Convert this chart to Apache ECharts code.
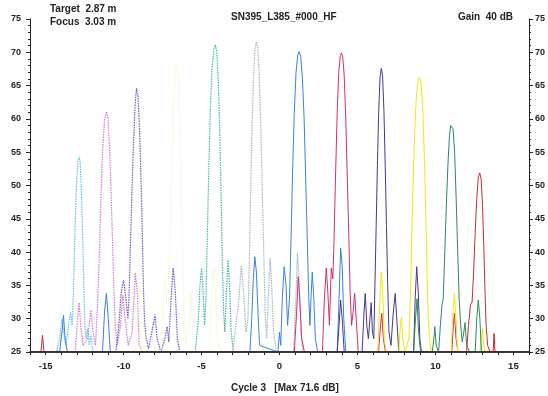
<!DOCTYPE html>
<html>
<head>
<meta charset="utf-8">
<script src="https://cdn.jsdelivr.net/npm/echarts@6/dist/echarts.min.js"></script>
<style>html,body{margin:0;padding:0;background:#fff;}</style>
</head>
<body>
<div id="myChart" style="width:548px;height:396px"></div>
<script>
// beam profile traces, [position, dB]
var traceA = [[-16,25],[-14.3,25],[-14.1,27],[-13.95,30],[-13.85,28],[-13.7,26],[-13.5,29.5],[-13.4,31],[-13.3,29],[-13.22,34],[-13.15,40],[-13.08,46],[-13.0,51],[-12.92,53.6],[-12.85,54.3],[-12.78,53.5],[-12.7,49],[-12.62,42],[-12.55,35],[-12.48,29],[-12.4,27],[-12.3,28.5],[-12.2,26],[-12.1,27.5],[-11.95,25],[16,25]];
var traceB = [[-16,25],[-13.1,25],[-12.95,30],[-12.85,32.4],[-12.75,29],[-12.6,26],[-12.3,27],[-12.1,31.3],[-11.95,28],[-11.8,26],[-11.65,33],[-11.55,40],[-11.45,48],[-11.35,55],[-11.22,59.8],[-11.1,61.1],[-11.0,60.2],[-10.9,56],[-10.8,49],[-10.7,41],[-10.6,33],[-10.52,28.7],[-10.4,26],[-10.2,29],[-10.05,33.5],[-9.9,30],[-9.7,26],[-9.45,28],[-9.25,36.9],[-9.12,34],[-9.0,26],[-8.8,25],[16,25]];
var traceC = [[-16,25],[-10.5,25],[-10.3,29],[-10.15,34],[-10.0,35.8],[-9.85,33],[-9.72,30],[-9.64,34],[-9.55,42],[-9.45,50],[-9.35,57],[-9.25,62.5],[-9.17,64.6],[-9.08,63.5],[-8.98,59],[-8.88,51],[-8.8,43],[-8.72,34],[-8.65,29.5],[-8.55,27],[-8.4,25.5],[-8.1,29],[-7.98,30.6],[-7.85,27],[-7.6,25],[-7.35,27],[-7.2,28.8],[-7.1,26.5],[-6.95,33],[-6.82,37.6],[-6.68,34],[-6.55,27],[-6.4,25],[16,25]];
var traceD = [[-16,25],[-9.2,25],[-9.05,35],[-8.95,30],[-8.85,25],[-7.6,25],[-7.45,33],[-7.35,35.8],[-7.25,32],[-7.1,36],[-6.98,45],[-6.88,55],[-6.78,63],[-6.68,67.5],[-6.6,68.5],[-6.52,67.5],[-6.42,62],[-6.32,52],[-6.22,40],[-6.12,30],[-6.0,26],[-5.8,29],[-5.68,33.8],[-5.56,28],[-5.4,25],[-4.5,25],[-4.35,34],[-4.22,37.6],[-4.1,33],[-3.95,26],[-3.6,25],[16,25]];
var traceE = [[-16,25],[-5.4,25],[-5.2,30],[-5.1,35],[-5.0,37.6],[-4.9,34],[-4.8,29],[-4.72,33],[-4.63,42],[-4.54,52],[-4.44,61],[-4.33,67.5],[-4.2,70.5],[-4.12,71.1],[-4.03,70.3],[-3.93,66],[-3.83,58],[-3.74,48],[-3.66,38],[-3.58,31],[-3.5,28],[-3.4,34],[-3.3,38.8],[-3.2,35],[-3.1,28],[-2.95,25],[16,25]];
var traceF = [[-16,25],[-3.0,25],[-2.8,29],[-2.6,33],[-2.45,38],[-2.3,34],[-2.15,28],[-2.02,30],[-1.94,38],[-1.86,48],[-1.77,58],[-1.67,66],[-1.57,70.5],[-1.49,71.6],[-1.4,70.6],[-1.3,66.5],[-1.2,59],[-1.1,49],[-1.0,39],[-0.92,31],[-0.82,27],[-0.7,34],[-0.6,39.1],[-0.5,35],[-0.38,28],[-0.2,25],[0.9,25],[1.05,33],[1.15,39.8],[1.25,36],[1.38,28],[1.5,25],[16,25]];
var traceG = [[-16,25],[-14.1,25],[-13.95,28],[-13.85,30.5],[-13.75,27],[-13.6,25],[-11.35,25],[-11.22,31],[-11.1,33.8],[-10.98,30],[-10.85,25],[-1.9,25],[-1.78,30],[-1.68,36],[-1.58,39.3],[-1.48,37],[-1.38,31],[-1.28,26],[-0.1,25],[0.0,28],[0.08,26],[0.18,33],[0.3,37.8],[0.42,35],[0.52,29],[0.64,33],[0.74,42],[0.84,52],[0.95,61],[1.06,67],[1.17,69.6],[1.26,70.1],[1.36,69.4],[1.47,66],[1.58,60],[1.68,51],[1.78,42],[1.88,33],[1.95,29],[2.02,33],[2.1,37],[2.2,33],[2.3,27],[2.45,25],[3.7,25],[3.82,33],[3.92,40.6],[4.02,38],[4.12,30],[4.25,25],[16,25]];
var traceH = [[-16,25],[0.95,25],[1.1,31],[1.2,36.3],[1.3,33],[1.42,27],[1.6,25],[2.75,25],[2.88,33],[3.0,37.6],[3.1,34],[3.2,29],[3.32,37.6],[3.42,36],[3.5,42],[3.6,52],[3.7,61],[3.8,67],[3.9,69.5],[3.97,69.9],[4.05,69.4],[4.15,66.5],[4.25,60],[4.35,51],[4.45,42],[4.53,34],[4.62,29],[4.72,31],[4.82,33.8],[4.92,30],[5.05,25],[6.35,25],[6.48,29],[6.56,30.8],[6.66,27],[6.8,25],[11.05,25],[11.15,29],[11.22,30.8],[11.32,27],[11.45,25],[16,25]];
var traceI = [[-16,25],[3.7,25],[3.82,29],[3.92,32.8],[4.02,30],[4.15,25],[5.3,25],[5.42,31],[5.5,33.8],[5.6,29],[5.7,27],[5.8,30],[5.88,32.4],[5.96,28],[6.05,27],[6.12,35],[6.2,44],[6.28,53],[6.36,61],[6.45,66.3],[6.53,67.6],[6.61,66.5],[6.7,61],[6.78,53],[6.86,44],[6.94,35],[7.02,28],[7.15,26],[7.3,31],[7.42,33.8],[7.52,30],[7.65,25],[8.6,25],[8.7,33],[8.8,37.8],[8.9,34],[9.0,27],[9.1,25],[16,25]];
var traceJ = [[-16,25],[6.3,25],[6.42,32],[6.52,37],[6.62,34],[6.72,27],[6.85,25],[7.65,25],[7.75,29],[7.82,30.2],[7.9,27],[8.05,25],[8.3,27],[8.38,32],[8.46,40],[8.56,50],[8.67,58],[8.78,63.5],[8.9,65.8],[8.98,66.2],[9.07,65.5],[9.18,62],[9.28,55],[9.38,46],[9.46,37],[9.54,30],[9.62,27],[9.75,25],[11.0,25],[11.12,31],[11.22,33.8],[11.32,30],[11.42,25],[12.85,25],[12.95,27],[13.02,28.5],[13.1,26],[13.2,25],[16,25]];
var traceK = [[-16,25],[8.6,25],[8.72,30],[8.82,33],[8.92,28],[9.05,25],[9.8,25],[9.9,27],[9.96,28.8],[10.05,26],[10.2,25],[10.32,29],[10.42,32.1],[10.5,33],[10.6,40],[10.7,47],[10.8,53],[10.9,57.5],[10.98,59],[11.05,59.3],[11.13,58.5],[11.23,55],[11.33,48],[11.43,40],[11.52,33],[11.62,29],[11.72,26.5],[11.82,28],[11.9,29.4],[12.0,26],[12.2,25],[12.55,25],[12.65,30],[12.75,32.8],[12.85,30],[12.95,25],[16,25]];
var traceL = [[-16,25],[-15.3,25],[-15.2,27.5],[-15.1,25],[12.0,25],[12.12,29],[12.25,32.1],[12.35,32.5],[12.45,37],[12.55,43],[12.65,48],[12.75,51.2],[12.84,51.9],[12.93,51],[13.02,47],[13.1,41],[13.18,34],[13.25,29],[13.35,26],[13.5,25],[13.7,25],[13.76,27.8],[13.82,25],[16,25]];

var dbTicks = [25, 30, 35, 40, 45, 50, 55, 60, 65, 70, 75];
var posTicks = [-15, -10, -5, 0, 5, 10, 15];

var traces = [traceA, traceB, traceC, traceD, traceE, traceF, traceG, traceH, traceI, traceJ, traceK, traceL];
var colors = ['#5cc4e6', '#d47ad4', '#6a5cc4', '#f7f5cf', '#44b8a6', '#a4b4c6',
              '#3a80e0', '#d0306a', '#463a8c', '#eaea10', '#2a8a5a', '#c8283c'];

var font = 'Liberation Sans';
var txt = '#222';

var series = [];
for (let i = 0; i < traces.length; i++) {
	series.push({
		type: 'line',
		data: traces[i],
		symbol: 'none',
		xAxisIndex: 0,
		yAxisIndex: 0,
		lineStyle: {color: colors[i], width: i < 6 ? 1.2 : 1, type: i < 6 ? [1.5, 1] : 'solid'},
		z: 2 + i
	});
}

var yLab = {fontSize: 9, fontWeight: 'bold', color: txt, fontFamily: font};

var option = {
	animation: false,
	backgroundColor: '#fff',
	grid: {left: 30, right: 17, top: 19, bottom: 44},
	xAxis: [{
		type: 'value',
		min: -16,
		max: 16,
		interval: 1,
		z: 20,
		axisLine: {show: true, onZero: false, lineStyle: {color: '#222', width: 1.5}},
		axisTick: {show: true, length: 3, lineStyle: {color: '#222'}},
		axisLabel: {
			margin: 9, fontSize: 9.5, fontWeight: 'bold', color: txt, fontFamily: font,
			formatter: function (v) { return posTicks.indexOf(v) >= 0 ? String(v) : ''; }
		},
		splitLine: {show: false}
	}],
	yAxis: [{
		type: 'value', min: dbTicks[0], max: dbTicks[dbTicks.length - 1], interval: 5,
		position: 'left',
		axisLine: {show: true, onZero: false, lineStyle: {color: '#222'}},
		axisTick: {show: true, length: 4, lineStyle: {color: '#222'}},
		minorTick: {show: true, splitNumber: 5, length: 2, lineStyle: {color: '#222'}},
		axisLabel: Object.assign({margin: 9}, yLab),
		splitLine: {show: false}
	}, {
		type: 'value', min: dbTicks[0], max: dbTicks[dbTicks.length - 1], interval: 5,
		position: 'right',
		axisLine: {show: true, onZero: false, lineStyle: {color: '#222'}},
		axisTick: {show: true, length: 4, lineStyle: {color: '#222'}},
		minorTick: {show: true, splitNumber: 5, length: 2, lineStyle: {color: '#222'}},
		axisLabel: Object.assign({margin: 6}, yLab),
		splitLine: {show: false}
	}],
	graphic: [
		{type: 'text', left: 50, top: 4, style: {text: 'Target  2.87 m', fill: txt, font: 'bold 10px ' + font}},
		{type: 'text', left: 50, top: 17, style: {text: 'Focus  3.03 m', fill: txt, font: 'bold 10px ' + font}},
		{type: 'text', left: 231, top: 12, style: {text: 'SN395_L385_#000_HF', fill: txt, font: 'bold 10px ' + font}},
		{type: 'text', left: 458, top: 12, style: {text: 'Gain  40 dB', fill: txt, font: 'bold 10px ' + font}},
		{type: 'text', left: 231, top: 383, style: {text: 'Cycle 3   [Max 71.6 dB]', fill: txt, font: 'bold 10px ' + font}}
	],
	series: series
};

let myChart = echarts.init(document.getElementById('myChart'));
myChart.setOption(option);
</script>
</body>
</html>
